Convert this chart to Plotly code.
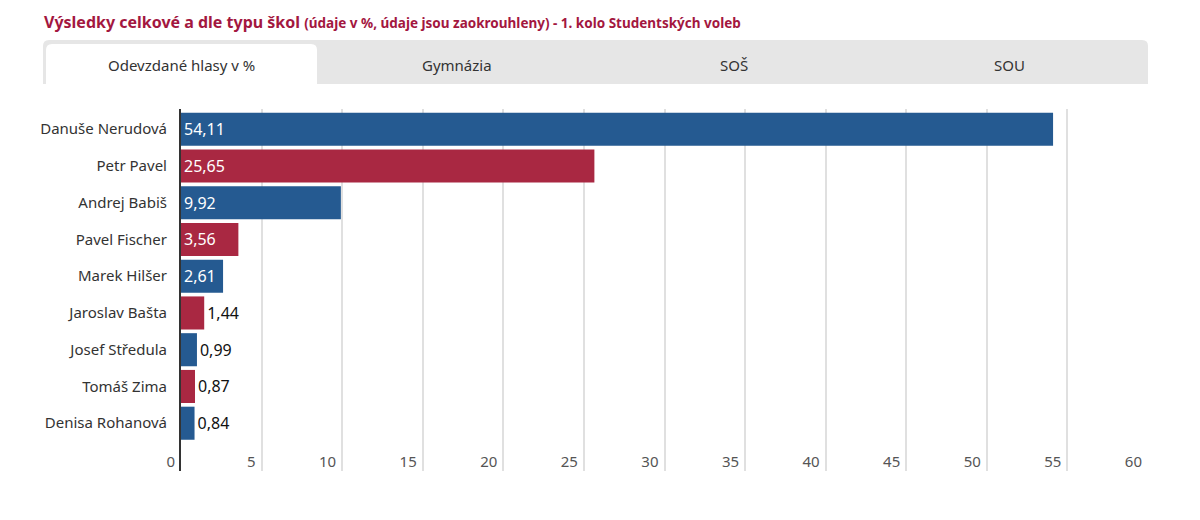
import plotly.graph_objects as go

# ---- data ----
candidates = ["Danuše Nerudová", "Petr Pavel", "Andrej Babiš", "Pavel Fischer",
              "Marek Hilšer", "Jaroslav Bašta", "Josef Středula", "Tomáš Zima",
              "Denisa Rohanová"]
values = [54.11, 25.65, 9.92, 3.56, 2.61, 1.44, 0.99, 0.87, 0.84]
bar_colors = ["#255a91", "#a92842", "#255a91", "#a92842", "#255a91",
              "#a92842", "#255a91", "#a92842", "#255a91"]
x_ticks = [0, 5, 10, 15, 20, 25, 30, 35, 40, 45, 50, 55, 60]
tabs = ["Odevzdané hlasy v %", "Gymnázia", "SOŠ", "SOU"]
title_main = "Výsledky celkové a dle typu škol"
title_sub = "(údaje v %, údaje jsou zaokrouhleny) - 1. kolo Studentských voleb"

FONT = "Noto Sans"
OFF = 8  # page offset
W, H = 1200 - 2 * OFF, 520 - 2 * OFF
ML, MR, MT, MB = 181 - OFF, 52 - OFF, 109 - OFF, 49 - OFF
PW = W - ML - MR
PH = H - MT - MB


def px(x):
    return (x - OFF - ML) / PW


def py(y):
    return (H - MB - (y - OFF)) / PH


text_pos = ["inside" if v >= 2 else "outside" for v in values]

fig = go.Figure()
fig.add_trace(go.Bar(
    y=candidates,
    x=values,
    orientation="h",
    marker=dict(color=bar_colors, line=dict(width=0)),
    text=values,
    texttemplate="%{x:.2f}",
    textposition=text_pos,
    insidetextanchor="start",
    insidetextfont=dict(color="white", size=16, family=FONT),
    outsidetextfont=dict(color="#111111", size=16, family=FONT),
    cliponaxis=False,
    hoverinfo="skip",
))

shapes = []
r = 6


def rounded_top(x0, y0, x1, y1, rad):
    return ("M {a},{b} L {a},{c} Q {a},{d} {e},{d} L {f},{d} Q {g},{d} {g},{c} L {g},{b} Z"
            .format(a=px(x0), b=py(y1), c=py(y0 + rad), d=py(y0),
                    e=px(x0 + rad), f=px(x1 - rad), g=px(x1)))


shapes.append(dict(type="path", xref="paper", yref="paper",
                   path=rounded_top(43, 40, 1148, 84, r),
                   fillcolor="#e6e6e6", line=dict(width=0), layer="below"))
shapes.append(dict(type="path", xref="paper", yref="paper",
                   path=rounded_top(46, 44, 317, 84, r),
                   fillcolor="#ffffff", line=dict(width=0), layer="below"))

annotations = []
tab_w = (1148 - 43) / len(tabs)
for i, t in enumerate(tabs):
    annotations.append(dict(
        x=px(43 + tab_w * (i + 0.5)), y=py(65), xref="paper", yref="paper",
        text=t, showarrow=False, xanchor="center", yanchor="middle",
        font=dict(family=FONT, size=15, color="#333333")))

annotations.append(dict(
    x=px(42), y=py(22), xref="paper", yref="paper", xanchor="left", yanchor="middle",
    showarrow=False,
    text="<b>" + title_main + "</b> <span style='font-size:13.5px'><b>" + title_sub + "</b></span>",
    font=dict(family=FONT, size=16, color="#a3173f")))

fig.update_layout(
    width=W, height=H,
    margin=dict(l=ML, r=MR, t=MT, b=MB),
    paper_bgcolor="white", plot_bgcolor="white",
    separators=", ",
    bargap=0.1,
    showlegend=False,
    shapes=shapes,
    annotations=annotations,
    font=dict(family=FONT, size=14, color="#333333"),
    xaxis=dict(
        range=[0, 60], tickvals=x_ticks, ticktext=[str(t) for t in x_ticks],
        showgrid=True, gridcolor="#e0e0e0", gridwidth=1.5,
        zeroline=False, showline=False, ticks="",
        ticklabelposition="inside left", ticklabeloverflow="allow",
        ticklabelshift=-6, ticklabelstandoff=-5,
        tickfont=dict(family=FONT, size=15, color="#555555"),
        fixedrange=True,
    ),
    yaxis=dict(
        categoryorder="array", categoryarray=candidates,
        range=[9.3, -0.55],
        showgrid=False, zeroline=False,
        showline=True, linecolor="#333333", linewidth=2,
        ticks="", ticklabelstandoff=9,
        tickfont=dict(family=FONT, size=15, color="#333333"),
        fixedrange=True,
    ),
)

fig.write_html("out.html", config={"displayModeBar": False})
